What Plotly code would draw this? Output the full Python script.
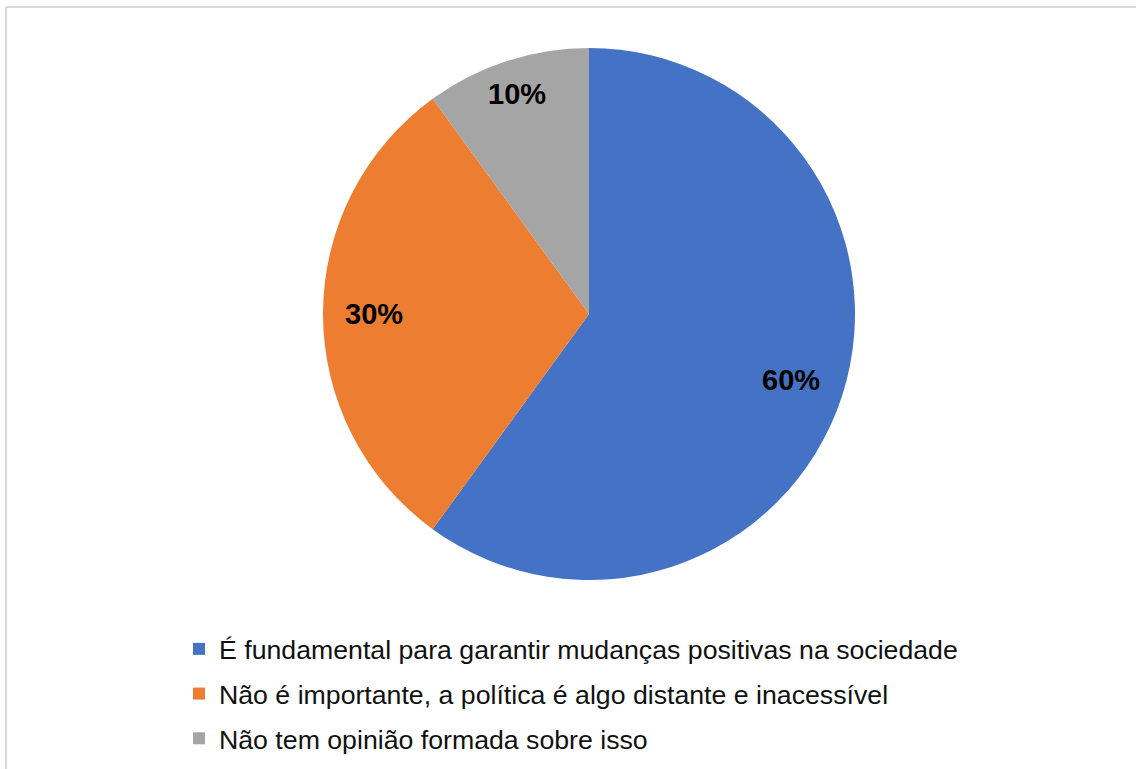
import math
import plotly.graph_objects as go

labels = [
    "É fundamental para garantir mudanças positivas na sociedade",
    "Não é importante, a política é algo distante e inacessível",
    "Não tem opinião formada sobre isso",
]
values = [60, 30, 10]
colors = ["#4472C4", "#ED7D31", "#A5A5A5"]

W, H = 1136, 769
CX, CY, R = 589, 314, 266          # pie centre and radius in px
label_radius = [0.80, 0.81, 0.87]   # fraction of radius where each % label sits

fig = go.Figure()
fig.add_trace(go.Pie(
    labels=labels,
    values=values,
    sort=False,
    direction="clockwise",
    rotation=0,
    marker=dict(colors=colors, line=dict(width=0)),
    textinfo="none",
    showlegend=False,
    domain=dict(x=[(CX - R) / W, (CX + R) / W], y=[1 - (CY + R) / H, 1 - (CY - R) / H]),
    hoverinfo="label+percent",
))

# legend entries (separate groups so that the row spacing can match)
for i, (lab, col) in enumerate(zip(labels, colors)):
    fig.add_trace(go.Scatter(
        x=[None], y=[None], mode="markers", name=lab,
        legendgroup=f"g{i}",
        marker=dict(symbol="square", size=12, color=col),
        hoverinfo="skip",
    ))

# percentage labels placed at each slice's mid-angle (computed from the data)
total = sum(values)
annotations = []
cum = 0
for v, fr in zip(values, label_radius):
    mid = (cum + v / 2) / total * 2 * math.pi
    cum += v
    px = CX + fr * R * math.sin(mid)
    py = CY - fr * R * math.cos(mid)
    annotations.append(dict(
        x=px / W, y=1 - py / H, xref="paper", yref="paper",
        text=f"{round(v / total * 100)}%", showarrow=False,
        xanchor="center", yanchor="middle",
        font=dict(family="Liberation Sans, Arial", size=29, color="black", weight="bold"),
    ))

fig.update_layout(
    width=W, height=H,
    margin=dict(l=0, r=0, t=0, b=0),
    paper_bgcolor="white",
    plot_bgcolor="white",
    xaxis=dict(visible=False),
    yaxis=dict(visible=False),
    showlegend=True,
    annotations=annotations,
    legend=dict(
        x=179 / W, y=1 - 625 / H, xanchor="left", yanchor="top",
        font=dict(family="Liberation Sans, Arial", size=26.7, color="#111111"),
        traceorder="grouped",
        tracegroupgap=7,
        bgcolor="rgba(0,0,0,0)",
    ),
    shapes=[
        dict(type="line", xref="paper", yref="paper", x0=6 / W, x1=1.0, y0=1 - 7 / H, y1=1 - 7 / H,
             line=dict(color="#D9D9D9", width=2)),
        dict(type="line", xref="paper", yref="paper", x0=6 / W, x1=6 / W, y0=0, y1=1 - 7 / H,
             line=dict(color="#D9D9D9", width=2)),
    ],
)

fig.write_html("out.html")
